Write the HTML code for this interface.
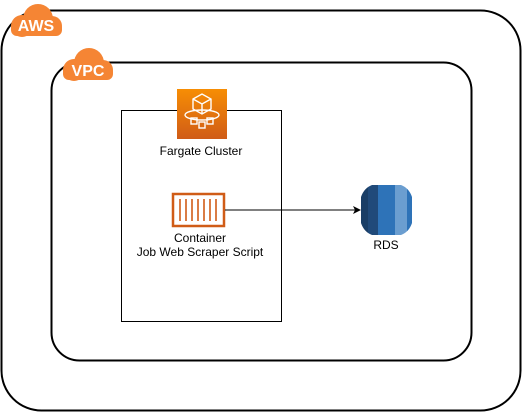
<!DOCTYPE html>
<html><head><style>body{margin:0;background:#fff}</style></head><body>
<svg width="522" height="412" xmlns="http://www.w3.org/2000/svg" font-family="Liberation Sans, Arial, sans-serif">
<rect x="1.5" y="10.5" width="519" height="400" rx="40" fill="none" stroke="#000" stroke-width="2"/>
<rect x="51.5" y="62.5" width="420" height="298" rx="28" fill="none" stroke="#000" stroke-width="2"/>
<rect x="121.5" y="110.5" width="160" height="211" fill="#fff" stroke="#000" stroke-width="1"/>
<!-- AWS cloud -->
<g fill="#f58534">
<circle cx="22" cy="26" r="11"/><circle cx="38" cy="19" r="15"/><circle cx="52" cy="26" r="10"/>
<rect x="11" y="22" width="51" height="14" rx="6"/>
</g>
<text x="36" y="31" font-size="16" font-weight="bold" fill="#fff" text-anchor="middle">AWS</text>
<!-- VPC cloud -->
<g fill="#f58534">
<circle cx="74" cy="70" r="11"/><circle cx="89" cy="63" r="15"/><circle cx="103" cy="70" r="10"/>
<rect x="63" y="66" width="50" height="14" rx="6"/>
</g>
<text x="88" y="76" font-size="16" font-weight="bold" fill="#fff" text-anchor="middle">VPC</text>
<!-- Fargate -->
<defs><linearGradient id="g" x1="0" y1="1" x2="0" y2="0"><stop offset="0" stop-color="#d05c17"/><stop offset="1" stop-color="#f78e04"/></linearGradient></defs>
<rect x="177" y="89" width="50" height="50" fill="url(#g)"/>
<g fill="none" stroke="#fff" stroke-width="1.4">
<path d="M193 99 l9-5 9 5 v10 l-9 5 -9-5z M193 99 l9 5 9-5 M202 104 v10"/>
<ellipse cx="202" cy="115" rx="17" ry="5"/>
<rect x="191" y="118" width="6" height="6"/><rect x="199" y="122" width="6" height="6"/><rect x="207" y="118" width="6" height="6"/>
</g>
<text x="201" y="155" font-size="12" text-anchor="middle">Fargate Cluster</text>
<!-- Container -->
<rect x="173" y="194" width="51" height="32" fill="#fff" stroke="#d05c17" stroke-width="2.5"/>
<g stroke="#d05c17" stroke-width="1.6">
<line x1="180" y1="199" x2="180" y2="221"/><line x1="186" y1="199" x2="186" y2="221"/><line x1="192" y1="199" x2="192" y2="221"/><line x1="198" y1="199" x2="198" y2="221"/><line x1="204" y1="199" x2="204" y2="221"/><line x1="210" y1="199" x2="210" y2="221"/><line x1="216" y1="199" x2="216" y2="221"/>
</g>
<text x="200" y="242" font-size="12" text-anchor="middle">Container</text>
<text x="200" y="256" font-size="12" text-anchor="middle">Job Web Scraper Script</text>
<!-- arrow -->
<line x1="225" y1="210" x2="355" y2="210" stroke="#000" stroke-width="1"/>
<path d="M361 210 l-8 -4 2 4 -2 4z" fill="#000"/>
<!-- RDS -->
<clipPath id="c"><path d="M361 197 Q364 188 372 185 H401 Q409 188 412 197 V223 Q409 232 401 235 H372 Q364 232 361 223Z"/></clipPath>
<g clip-path="url(#c)">
<rect x="361" y="185" width="7" height="50" fill="#1a3e66"/>
<rect x="368" y="185" width="10" height="50" fill="#204a7a"/>
<rect x="378" y="185" width="17" height="50" fill="#2e73b8"/>
<rect x="395" y="185" width="12" height="50" fill="#6b9ed0"/>
<rect x="407" y="185" width="5" height="50" fill="#2e73b8"/>
</g>
<text x="386" y="249" font-size="12" text-anchor="middle">RDS</text>
</svg>
</body></html>
